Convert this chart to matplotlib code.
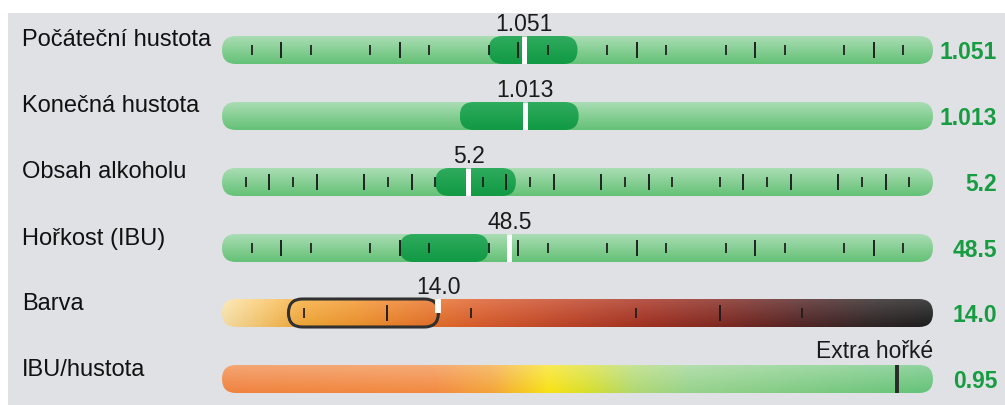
import numpy as np
import matplotlib
matplotlib.use("Agg")
import matplotlib.pyplot as plt
from matplotlib.patches import FancyBboxPatch, Rectangle
from matplotlib.colors import LinearSegmentedColormap, to_rgb

plt.rcParams['font.family'] = ['Liberation Sans', 'DejaVu Sans']

# ---------------- data ----------------
labels = ["Počáteční hustota", "Konečná hustota", "Obsah alkoholu",
          "Hořkost (IBU)", "Barva", "IBU/hustota"]
values = [1.051, 1.013, 5.2, 48.5, 14.0, 0.95]
value_texts = ["1.051", "1.013", "5.2", "48.5", "14.0", "0.95"]
scale_min = [1.000, 1.000, 0.0, 0.0, 0.0, 0.0]
scale_max = [1.120, 1.0305, 15.0, 120.0, 46.0, 1.0]
range_lo = [1.045, 1.0102, 4.5, 30.0, 4.3, None]
range_hi = [1.060, 1.0153, 6.2, 45.0, 14.0, None]

og_minor = [1.005, 1.015, 1.025, 1.035, 1.045, 1.055, 1.065, 1.075, 1.085, 1.095, 1.105, 1.115]
og_major = [1.010, 1.030, 1.050, 1.070, 1.090, 1.110]
abv_minor = [0.5, 1.5, 3.5, 4.5, 5.5, 6.5, 8.5, 9.5, 10.5, 11.5, 13.5, 14.5]
abv_major = [1, 2, 3, 4, 6, 7, 8, 9, 11, 12, 13, 14]
ibu_minor = [5, 15, 25, 35, 45, 55, 65, 75, 85, 95, 105, 115]
ibu_major = [10, 30, 50, 70, 90, 110]
color_minor = [5.3, 16.1, 26.8, 37.5]
color_major = [10.7, 32.2]
minor_ticks = [og_minor, [], abv_minor, ibu_minor, color_minor, []]
major_ticks = [og_major, [], abv_major, ibu_major, color_major, []]
ratio_category = "Extra hořké"

# ---------------- style ----------------
W, H = 1005, 405
BAR_X0, BAR_X1 = 222, 933
BAR_H = 28
ROW_Y = [50, 116, 182, 248, 313, 379]
GREEN_TXT = '#179c42'

srm_stops = [(0.0, '#fde4a8'), (0.05, '#fbcc74'), (0.11, '#f7ac3a'),
             (0.19, '#f4962e'), (0.29, '#ea742a'), (0.36, '#de5e2c'),
             (0.47, '#c64828'), (0.60, '#a63222'), (0.70, '#862a22'),
             (0.81, '#582626'), (0.92, '#302626'), (1.0, '#1e1e1e')]
ratio_stops = [(0.0, '#f0823e'), (0.30, '#f28a40'), (0.38, '#f4a438'),
               (0.43, '#f6cc20'), (0.46, '#f8e214'), (0.52, '#d4de30'),
               (0.58, '#b0d870'), (0.66, '#96d28c'), (1.0, '#64c278')]


def h_gradient(stops, n=700):
    cmap = LinearSegmentedColormap.from_list('g', stops)
    return cmap(np.linspace(0, 1, n))[:, :3]


def shade_image(hcolors, top_light, bottom_dark, n_rows=40):
    t = np.linspace(0, 1, n_rows)[:, None, None]
    light = top_light * (1 - t)
    dark = bottom_dark * t
    img = hcolors[None, :, :] * (1 - light) + light
    img = img * (1 - dark)
    return np.clip(img, 0, 1)


def solid(color, n=4):
    return np.tile(np.array(to_rgb(color)), (n, 1))


def rounded(ax, x0, x1, **kw):
    lo, hi = ax.get_xlim()
    r = (hi - lo) * (BAR_H / 2) / (BAR_X1 - BAR_X0)
    r = min(r, (x1 - x0) / 2)
    return FancyBboxPatch((x0, 0), x1 - x0, 1,
                          boxstyle=f"round,pad=0,rounding_size={r*0.999}",
                          mutation_aspect=0.5 / r, transform=ax.transData, **kw)


def gradient_fill(ax, x0, x1, img, z):
    clip = rounded(ax, x0, x1, facecolor='none', edgecolor='none')
    ax.add_patch(clip)
    im = ax.imshow(img, extent=(x0, x1, 0, 1), aspect='auto', origin='upper',
                   zorder=z, interpolation='bilinear')
    im.set_clip_path(clip)


fig = plt.figure(figsize=(W / 100, H / 100), dpi=100)
fig.patch.set_facecolor('white')
fig.patches.append(Rectangle((8 / W, 0), 1, 1 - 13 / H, transform=fig.transFigure,
                             facecolor='#dfe1e4', edgecolor='none', zorder=-10))

for i, cy in enumerate(ROW_Y):
    ax = fig.add_axes([BAR_X0 / W, 1 - (cy + BAR_H / 2) / H,
                       (BAR_X1 - BAR_X0) / W, BAR_H / H])
    ax.axis('off')
    lo, hi = scale_min[i], scale_max[i]
    ax.set_xlim(lo, hi)
    ax.set_ylim(0, 1)
    ax.set_autoscale_on(False)

    # background bar
    if i < 4:
        bg = shade_image(solid('#64c176'), 0.45, 0.0)
    elif i == 4:
        bg = shade_image(h_gradient(srm_stops), 0.18, 0.05)
    else:
        bg = shade_image(h_gradient(ratio_stops), 0.28, 0.0)
    gradient_fill(ax, lo, hi, bg, 1)

    # style range
    if range_lo[i] is not None:
        if i < 4:
            rg = shade_image(solid('#12a047'), 0.12, 0.04)
            gradient_fill(ax, range_lo[i], range_hi[i], rg, 2)
        else:
            box = rounded(ax, range_lo[i], range_hi[i], facecolor='none',
                          edgecolor='#303030', lw=2.2, zorder=4)
            box.set_clip_on(False)
            ax.add_patch(box)

    # ticks
    ax.vlines(minor_ticks[i], 0.33, 0.67, color='#1c1c1c', lw=1.25, zorder=3)
    ax.vlines(major_ticks[i], 0.20, 0.80, color='#1c1c1c', lw=1.35, zorder=3)

    # marker
    v = values[i]
    if i < 4:
        ax.plot([v, v], [0, 1], color='white', lw=3.6, zorder=5,
                solid_capstyle='butt')
    elif i == 4:
        ax.plot([v, v], [0.5, 1], color='white', lw=4.2, zorder=5,
                solid_capstyle='butt', clip_on=False)
    else:
        ax.plot([v, v], [0, 1], color='#2a2a2a', lw=2.8, zorder=5,
                solid_capstyle='butt')

    # text above
    if i < 5:
        ax.annotate(value_texts[i], xy=(v, 1), xytext=(0, 3.5),
                    textcoords='offset points', ha='center', va='baseline',
                    fontsize=16.5, color='#1a1a1a', annotation_clip=False)
    else:
        ax.annotate(ratio_category, xy=(hi, 1), xytext=(0, 5),
                    textcoords='offset points', ha='right', va='baseline',
                    fontsize=16.5, color='#1a1a1a', annotation_clip=False)

    ax.set_xlim(lo, hi)
    ax.set_ylim(0, 1)

    # row label and value at right
    fig.text(22 / W, 1 - (cy - 3.5) / H, labels[i], fontsize=17,
             ha='left', va='baseline', color='#111111')
    fig.text(997 / W, 1 - (cy + 9) / H, value_texts[i], fontsize=16.5,
             fontweight='bold', ha='right', va='baseline', color=GREEN_TXT)

fig.savefig('out.png', dpi=100)
